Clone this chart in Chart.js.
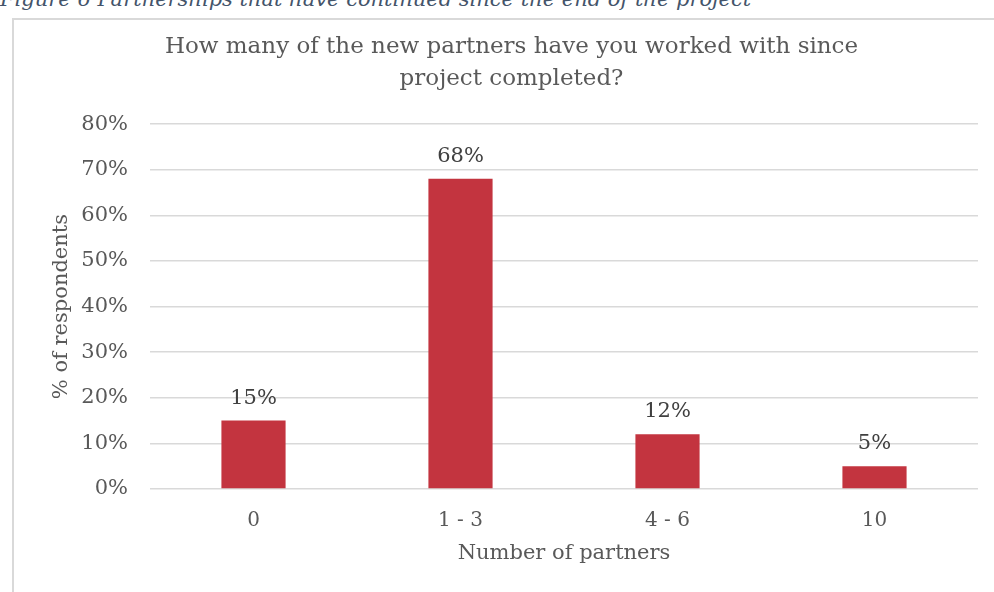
<!DOCTYPE html>
<html>
<head>
<meta charset="utf-8">
<script src="https://cdn.jsdelivr.net/npm/chart.js@4.4.0/dist/chart.umd.min.js"></script>
<style>
  html, body { margin: 0; padding: 0; background: #fff; overflow: hidden; }
  body { width: 994px; height: 592px; position: relative; }
  .caption {
    position: absolute; left: 0; top: -13px; margin: 0;
    font: italic 21px "DejaVu Serif", serif; color: #44546a; white-space: nowrap;
  }
  .frame {
    position: absolute; left: 12px; top: 18px; width: 1000px; height: 600px;
    border: 2px solid #d9d9d9; box-sizing: border-box;
  }
  .frame canvas { display: block; }
</style>
</head>
<body>
<p class="caption">Figure 6 Partnerships that have continued since the end of the project</p>
<div class="frame">
  <canvas id="partnersChart" width="996" height="596"></canvas>
</div>
<script>
const categories = ['0', '1 - 3', '4 - 6', '10'];
const respondents = [15, 68, 12, 5];
const yTicks = [0, 10, 20, 30, 40, 50, 60, 70, 80];

const serif = '"DejaVu Serif", Georgia, serif';

// value labels above each bar
const barLabels = {
  id: 'barLabels',
  afterDatasetsDraw(chart) {
    const ctx = chart.ctx;
    const meta = chart.getDatasetMeta(0);
    ctx.save();
    ctx.font = '21px ' + serif;
    ctx.fillStyle = '#404040';
    ctx.textAlign = 'center';
    ctx.textBaseline = 'bottom';
    meta.data.forEach(function (bar, i) {
      ctx.fillText(respondents[i] + '%', bar.x, bar.y - 12);
    });
    ctx.restore();
  }
};

const ctx = document.getElementById('partnersChart').getContext('2d');
window.partnersChart = new Chart(ctx, {
  type: 'bar',
  data: {
    labels: categories,
    datasets: [{
      label: '% of respondents',
      data: respondents,
      backgroundColor: '#c3343f',
      borderWidth: 0,
      categoryPercentage: 1,
      barPercentage: 0.31
    }]
  },
  options: {
    responsive: false,
    animation: false,
    layout: { padding: { left: 31, right: 32, top: 0, bottom: 0 } },
    plugins: {
      legend: { display: false },
      tooltip: { enabled: false },
      title: {
        display: true,
        text: ['How many of the new partners have you worked with since', 'project completed?'],
        color: '#595959',
        font: { family: serif, size: 23, weight: 'normal', lineHeight: 1.35 },
        padding: { top: 12, bottom: 30 }
      }
    },
    scales: {
      x: {
        afterFit(scale) {
          scale.height = 127;
        },
        grid: { display: false },
        border: { display: false },
        ticks: {
          color: '#595959',
          font: { family: serif, size: 20 },
          padding: 12
        },
        title: {
          display: true,
          text: 'Number of partners',
          color: '#595959',
          font: { family: serif, size: 21 },
          padding: { top: 0, bottom: 50 }
        }
      },
      y: {
        min: 0,
        max: 80,
        afterBuildTicks(scale) {
          scale.ticks = yTicks.map(function (v) { return { value: v }; });
        },
        afterFit(scale) {
          scale.width = 105;
        },
        grid: { color: '#d9d9d9', lineWidth: 1.5, drawTicks: false },
        border: { display: false },
        ticks: {
          color: '#595959',
          font: { family: serif, size: 21 },
          padding: 22,
          callback: function (v) { return v + '%'; }
        },
        title: {
          display: true,
          text: '% of respondents',
          color: '#595959',
          font: { family: serif, size: 21 },
          padding: { top: 4, bottom: 0 }
        }
      }
    }
  },
  plugins: [barLabels]
});
</script>
</body>
</html>
